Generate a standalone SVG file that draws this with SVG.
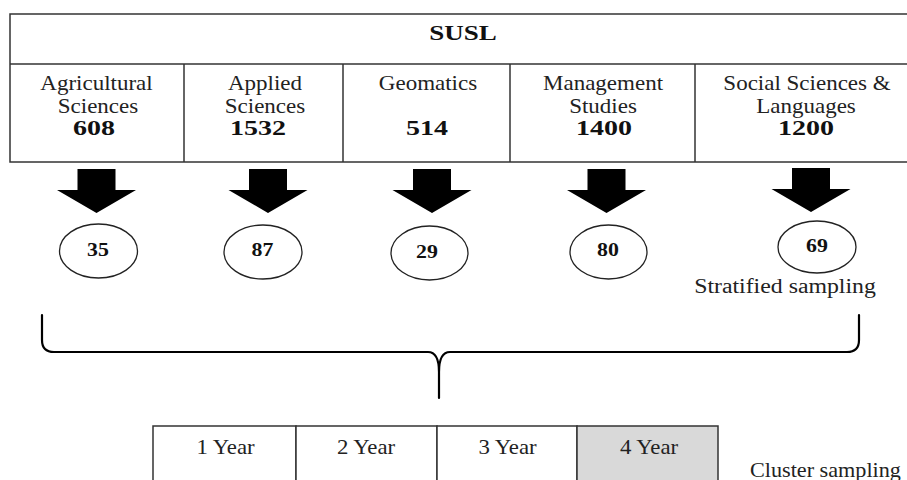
<svg xmlns="http://www.w3.org/2000/svg" width="907" height="480" viewBox="0 0 907 480">
<style>
.t{font-family:"Liberation Serif","Times New Roman",serif;font-size:20px;fill:#222;text-anchor:middle}
.b{font-family:"Liberation Serif","Times New Roman",serif;font-size:20px;font-weight:bold;fill:#111;text-anchor:middle}
.c{font-family:"Liberation Serif","Times New Roman",serif;font-size:19px;font-weight:bold;fill:#111;text-anchor:middle}
.box{fill:#fff;stroke:#333;stroke-width:1.5}
.ell{fill:#fff;stroke:#222;stroke-width:1.3}
.arr{fill:#000}
.brace{fill:none;stroke:#000;stroke-width:2.2;stroke-linecap:round;stroke-linejoin:round}
</style>
<defs>
<path id="arrow" class="arr" d="M-19 0 L19 0 L19 21 L39.5 21 L0 44 L-39.5 21 L-19 21 Z"/>
</defs>
<rect width="907" height="480" fill="#fff"/>

<g id="susl">
<rect class="box" x="10" y="14" width="900" height="148"/>
<line x1="10" y1="64" x2="910" y2="64" stroke="#333" stroke-width="1.5"/>
<text class="b" transform="translate(463,40) scale(1.35,1)">SUSL</text>
</g>

<g id="agri">
<line x1="184" y1="64" x2="184" y2="162" stroke="#333" stroke-width="1.5"/>
<text class="t" transform="translate(96.5,90) scale(1.15,1)">Agricultural</text>
<text class="t" transform="translate(98,113) scale(1.15,1)">Sciences</text>
<text class="b" transform="translate(94,135) scale(1.4,1)">608</text>
</g>
<g id="applied">
<line x1="343" y1="64" x2="343" y2="162" stroke="#333" stroke-width="1.5"/>
<text class="t" transform="translate(265,90) scale(1.15,1)">Applied</text>
<text class="t" transform="translate(265,113) scale(1.15,1)">Sciences</text>
<text class="b" transform="translate(258,135) scale(1.4,1)">1532</text>
</g>
<g id="geo">
<line x1="510" y1="64" x2="510" y2="162" stroke="#333" stroke-width="1.5"/>
<text class="t" transform="translate(428,90) scale(1.15,1)">Geomatics</text>
<text class="b" transform="translate(427,135) scale(1.4,1)">514</text>
</g>
<g id="mgmt">
<line x1="695" y1="64" x2="695" y2="162" stroke="#333" stroke-width="1.5"/>
<text class="t" transform="translate(603,90) scale(1.15,1)">Management</text>
<text class="t" transform="translate(603,113) scale(1.15,1)">Studies</text>
<text class="b" transform="translate(604,135) scale(1.4,1)">1400</text>
</g>
<g id="social">
<text class="t" transform="translate(807,90) scale(1.15,1)">Social Sciences &amp;</text>
<text class="t" transform="translate(806,113) scale(1.15,1)">Languages</text>
<text class="b" transform="translate(806,135) scale(1.4,1)">1200</text>
</g>

<g id="connectors">
<use href="#arrow" x="96.5" y="169"/>
<use href="#arrow" x="268" y="169"/>
<use href="#arrow" x="432" y="169"/>
<use href="#arrow" x="606.5" y="169"/>
<use href="#arrow" x="811" y="168"/>
<path class="brace" d="M42 315 L42 340 Q42 352 54 352 L428 352 C435 352 439 358 439 372 L439 398 M439 372 C439 358 443 352 450 352 L847 352 Q859 352 859 340 L859 315"/>
</g>

<g id="n35"><ellipse class="ell" cx="98.5" cy="251" rx="39" ry="27"/><text class="c" transform="translate(98,256) scale(1.15,1)">35</text></g>
<g id="n87"><ellipse class="ell" cx="263" cy="252" rx="39" ry="27"/><text class="c" transform="translate(262.5,256) scale(1.15,1)">87</text></g>
<g id="n29"><ellipse class="ell" cx="429.5" cy="253" rx="38.5" ry="27"/><text class="c" transform="translate(427,258) scale(1.15,1)">29</text></g>
<g id="n80"><ellipse class="ell" cx="608.5" cy="252" rx="38.5" ry="27"/><text class="c" transform="translate(608,256) scale(1.15,1)">80</text></g>
<g id="n69"><ellipse class="ell" cx="817" cy="247" rx="39" ry="26"/><text class="c" transform="translate(817,252) scale(1.15,1)">69</text></g>
<g id="stratified"><text class="t" transform="translate(785,293) scale(1.19,1)">Stratified sampling</text></g>

<g id="years">
<rect class="box" x="153" y="426" width="143" height="70"/>
<rect class="box" x="296" y="426" width="141" height="70"/>
<rect class="box" x="437" y="426" width="140" height="70"/>
<rect x="577" y="426" width="141" height="70" fill="#d9d9d9" stroke="#333" stroke-width="1.5"/>
<text class="t" transform="translate(225.5,454) scale(1.14,1)">1 Year</text>
<text class="t" transform="translate(366,454) scale(1.14,1)">2 Year</text>
<text class="t" transform="translate(507.5,454) scale(1.14,1)">3 Year</text>
<text class="t" transform="translate(649,454) scale(1.14,1)">4 Year</text>
</g>
<g id="cluster"><text class="t" style="text-anchor:start" transform="translate(750,477) scale(1.11,1)">Cluster sampling</text></g>
</svg>
